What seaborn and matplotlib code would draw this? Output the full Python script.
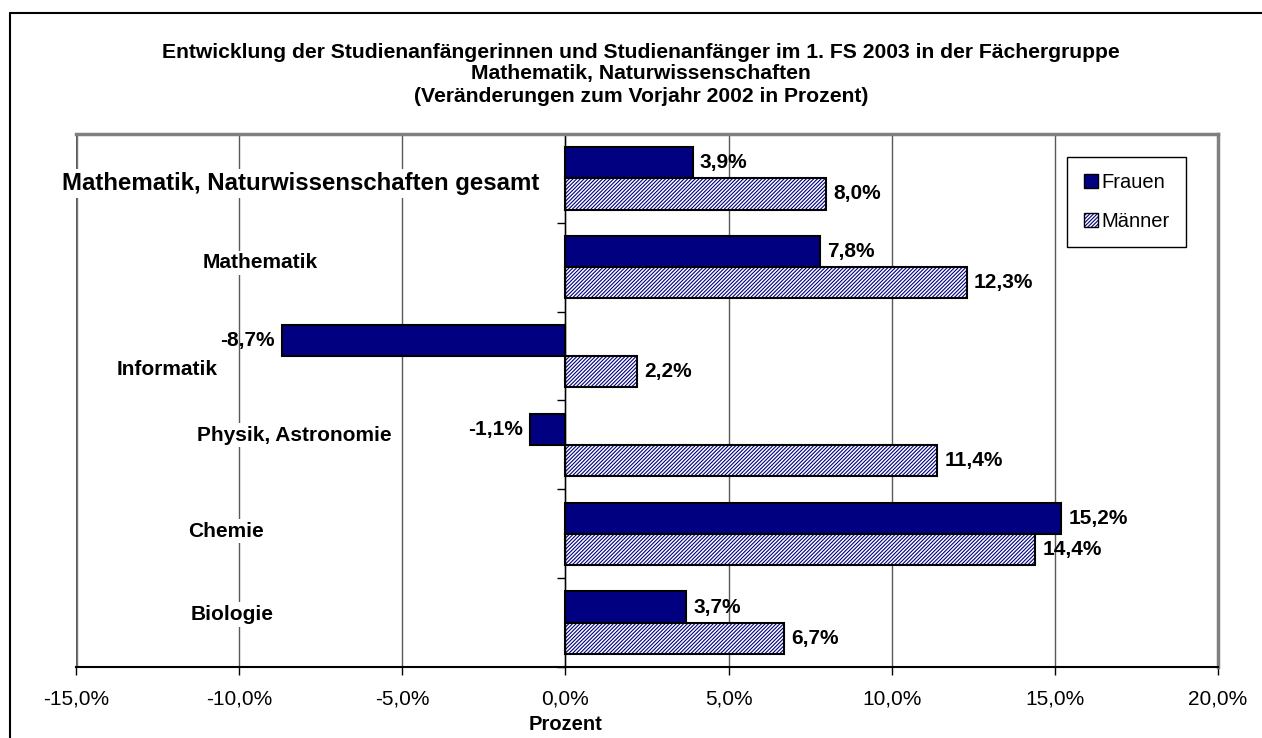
import numpy as np
import pandas as pd
import matplotlib
matplotlib.use("Agg")
import matplotlib.pyplot as plt
import matplotlib.patches as mpatches
from matplotlib.lines import Line2D
from matplotlib.colors import to_rgba
from matplotlib.ticker import FuncFormatter
import seaborn as sns

# daten
faecher = ["Mathematik, Naturwissenschaften gesamt", "Mathematik", "Informatik",
           "Physik, Astronomie", "Chemie", "Biologie"]
frauen = [3.9, 7.8, -8.7, -1.1, 15.2, 3.7]
maenner = [8.0, 12.3, 2.2, 11.4, 14.4, 6.7]
titel = ["Entwicklung der Studienanfängerinnen und Studienanfänger im 1. FS 2003 in der Fächergruppe",
         "Mathematik, Naturwissenschaften",
         "(Veränderungen zum Vorjahr 2002 in Prozent)"]

df = pd.DataFrame({
    "Fach": faecher * 2,
    "Geschlecht": ["Frauen"] * len(faecher) + ["Männer"] * len(faecher),
    "Wert": frauen + maenner,
})

sns.set_style("white")
plt.rcParams["font.family"] = ["Liberation Sans", "DejaVu Sans"]
plt.rcParams["hatch.linewidth"] = 0.8
plt.rcParams["text.color"] = "black"
plt.rcParams["xtick.color"] = "black"
plt.rcParams["ytick.color"] = "black"
plt.rcParams["axes.labelcolor"] = "black"

navy = "#000080"
hatch = "/////////"
W, H = 1262, 738

fig = plt.figure(figsize=(W / 100, H / 100), dpi=100)
ax = fig.add_axes([76 / W, 1 - 667 / H, (1218 - 76) / W, (667 - 134) / H])

sns.barplot(data=df, y="Fach", x="Wert", hue="Geschlecht", orient="h",
            palette={"Frauen": navy, "Männer": "white"}, saturation=1,
            width=0.7, gap=0, edgecolor="black", linewidth=1.5, legend=False, ax=ax)


def navy_hatch(p):
    p.set_hatch(hatch)
    if hasattr(p, "set_hatchcolor"):
        p.set_hatchcolor(navy)
    else:
        p._hatch_color = to_rgba(navy)


# hatch fuer maenner
for bar in ax.containers[1]:
    navy_hatch(bar)

fmt = lambda v: f"{v:.1f}%".replace(".", ",")
for cont in ax.containers:
    ax.bar_label(cont, fmt=fmt, padding=5, fontsize=15, fontweight="bold", color="black")

ax.set_xlim(-15, 20)
ax.set_ylim(5.5, -0.5)
ax.set_xticks(np.arange(-15, 20.1, 5))
ax.xaxis.set_major_formatter(FuncFormatter(lambda v, p: f"{v:.1f}%".replace(".", ",")))
ax.tick_params(axis="x", direction="out", length=6, width=1, color="black",
               labelcolor="black", labelsize=15, pad=10, bottom=True)
ax.set_yticks(np.arange(-0.5, 6, 1))
ax.set_yticklabels([])
ax.tick_params(axis="y", direction="out", length=6, width=1, color="black", left=True)
ax.set_xlabel("")
ax.set_ylabel("")

ax.xaxis.grid(True, color="#5a5a5a", lw=1)
ax.set_axisbelow(True)
ax.axvline(-15, color="#808080", lw=2.5, zorder=0.5)
ax.spines["left"].set_position(("data", 0))
ax.spines["left"].set_color("black")
ax.spines["left"].set_linewidth(1)
ax.spines["bottom"].set_color("black")
ax.spines["bottom"].set_linewidth(1.5)
for s in ["top", "right"]:
    ax.spines[s].set_color("#808080")
    ax.spines[s].set_linewidth(2.5)

# kategorienbeschriftung im diagramm
lab_x = [-8.1, -9.35, -12.2, -8.3, -10.4, -10.2]
lab_y = [0.06, 0.95, 2.15, 2.89, 3.97, 4.91]
lab_size = [17.3, 15, 15, 15, 15, 15]
for name, x, y, s in zip(faecher, lab_x, lab_y, lab_size):
    ax.text(x, y, name, ha="center", va="center", fontsize=s, fontweight="bold",
            color="black", bbox=dict(facecolor="white", edgecolor="none", pad=2), zorder=3)

handles = [mpatches.Patch(facecolor=navy, edgecolor="black", label="Frauen"),
           mpatches.Patch(facecolor="white", edgecolor="black", label="Männer")]
navy_hatch(handles[1])
leg = ax.legend(handles=handles, loc="upper right", bbox_to_anchor=(0.972, 0.957),
                borderaxespad=0, fontsize=14.5, frameon=True, fancybox=False, framealpha=1,
                edgecolor="black", handlelength=0.7, handleheight=0.7,
                handletextpad=0.2, labelspacing=1.0, borderpad=0.8)
leg.get_frame().set_linewidth(1)
for p in leg.get_patches():
    if p.get_hatch():
        navy_hatch(p)

# titel
for i, t in enumerate(titel):
    fig.text(641 / W, 1 - (52 + 22 * i) / H, t, ha="center", va="center",
             fontsize=15.2, fontweight="bold")
fig.text(566 / W, 1 - 725 / H, "Prozent", ha="center", va="center",
         fontsize=14.5, fontweight="bold")

# rahmen
fig.add_artist(Line2D([10 / W, 10 / W], [0, 1 - 13 / H], transform=fig.transFigure,
                      color="black", lw=1.5))
fig.add_artist(Line2D([10 / W, 1], [1 - 13 / H, 1 - 13 / H], transform=fig.transFigure,
                      color="black", lw=1.5))

fig.savefig("out.png", dpi=100)
